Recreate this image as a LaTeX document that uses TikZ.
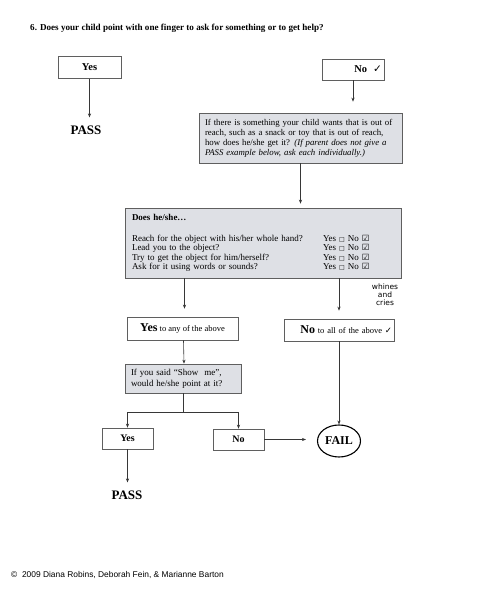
\documentclass[tikz,border=0pt]{standalone}
\usepackage{fontspec}
\setmainfont{Liberation Serif}
\newfontfamily\footfont{Liberation Sans}
\newfontfamily\symfont{DejaVu Sans}
\usetikzlibrary{shapes.geometric, arrows.meta, positioning, calc}
\definecolor{boxfill}{RGB}{222,224,229}
\definecolor{boxborder}{RGB}{95,95,95}
\definecolor{linegray}{RGB}{55,55,55}
\newcommand{\handtick}{{\symfont ✓}}
\newcommand{\ynbox}{{\symfont\fontsize{6}{6}\selectfont □}}
\newcommand{\boxtick}{{\symfont\fontsize{8.5}{8.5}\selectfont ☑}}
\newcommand{\bigword}[1]{{\fontsize{12}{12}\selectfont\bfseries #1}}
\tikzset{
  whitebox/.style={
    rectangle, fill=white, draw=boxborder, line width=0.7pt,
    inner sep=2pt, font=\fontsize{10.5}{12}\selectfont\bfseries},
  graybox/.style={
    rectangle, fill=boxfill, draw=boxborder, line width=0.7pt,
    align=left, inner xsep=6pt, inner ysep=3pt,
    font=\fontsize{8.8}{10}\selectfont},
  passtext/.style={
    inner xsep=1pt, inner ysep=8pt,
    font=\fontsize{13}{13}\selectfont\bfseries},
  failnode/.style={
    ellipse, draw=black, line width=1.1pt, inner sep=1pt,
    minimum width=43pt, minimum height=32pt,
    font=\fontsize{12}{12}\selectfont\bfseries},
  arrow/.style={-{Stealth[length=4pt, width=3.2pt]}, line width=0.6pt,
                color=linegray}
}
\begin{document}
\begin{tikzpicture}[x=1pt, y=1pt]
  \useasboundingbox (0,0) rectangle (500,600);

  %% Question
  \node[anchor=west, inner sep=0pt, font=\fontsize{9.1}{11}\selectfont\bfseries]
    (title) at (30,572)
    {6. Does your child point with one finger to ask for something or to get help?};

  %% Row 1: first answer
  \node[whitebox, minimum width=63pt, minimum height=22pt]
    (yesA) at (89.5,532.5) {Yes};
  \node[whitebox, minimum height=21pt, text width=58pt, align=right]
    (noA) at (353,530.5) {No\hspace{6pt}{\mdseries\handtick}\hspace{1pt}};
  \node[passtext] (passA) at (86,470) {PASS};

  %% Row 2: follow-up question
  \node[graybox, text width=191pt, minimum height=50pt]
    (info) at (300.5,462)
    {If there is something your child wants that is out of\\
     reach, such as a snack or toy that is out of reach,\\
     how does he/she get it? \textit{(If parent does not give a}\\
     \textit{PASS example below, ask each individually.)}};

  %% Row 3: the four ways
  \node[graybox, text width=262pt, minimum height=70pt, inner xsep=7pt,
        font=\fontsize{9}{9.5}\selectfont]
    (does) at (263,357)
    {\textbf{Does he/she\ldots}\\[11.5pt]
     \makebox[191pt][l]{Reach for the object with his/her whole hand?}Yes \ynbox\ No \boxtick\\
     \makebox[191pt][l]{Lead you to the object?}Yes \ynbox\ No \boxtick\\
     \makebox[191pt][l]{Try to get the object for him/herself?}Yes \ynbox\ No \boxtick\\
     \makebox[191pt][l]{Ask for it using words or sounds?}Yes \ynbox\ No \boxtick};
  \node[align=center, inner sep=0pt, font=\symfont\fontsize{7.5}{8}\selectfont]
    (whines) at (385,305) {whines\\and\\cries};

  %% Row 4: summary
  \node[whitebox, minimum width=111pt, minimum height=23pt,
        font=\fontsize{8.5}{10}\selectfont]
    (yesany) at (182.5,271.5) {\bigword{Yes} to any of the above};
  \node[whitebox, minimum height=22pt, text width=106pt, align=right,
        font=\fontsize{8.5}{10}\selectfont]
    (noall) at (339,270) {\bigword{No} to all of the above \handtick};

  %% Row 5: show me
  \node[graybox, text width=104pt, minimum height=29pt,
        font=\fontsize{9}{11}\selectfont]
    (showme) at (183,221.5)
    {If you said ``Show\ \ me'',\\would he/she point at it?};

  %% Row 6: last answer
  \node[whitebox, minimum width=51pt, minimum height=21pt,
        font=\fontsize{10}{12}\selectfont\bfseries]
    (yesB) at (127.5,161.5) {Yes};
  \node[whitebox, minimum width=51pt, minimum height=21pt,
        font=\fontsize{10}{12}\selectfont\bfseries]
    (noB) at (238.5,160.5) {No};
  \node[failnode] (fail) at (339,159) {FAIL};
  \node[passtext] (passB) at (127,105) {PASS};

  %% Footer
  \node[anchor=west, inner sep=0pt, font=\footfont\fontsize{8.4}{10}\selectfont]
    (copy) at (11,25) {©\ \ 2009 Diana Robins, Deborah Fein, \& Marianne Barton};

  %% Arrows
  \draw[arrow] (yesA.south) -- (yesA.south |- passA.north);
  \draw[arrow, shorten >=11pt] (noA.south) -- (noA.south |- info.north);
  \draw[arrow, shorten >=4pt] (info.south) -- (info.south |- does.north);
  \draw[arrow, shorten >=8pt] ([xshift=2pt]yesany.north |- does.south)
    -- ([xshift=2pt]yesany.north);
  \draw[arrow, shorten >=8pt] (noall.north |- does.south) -- (noall.north);
  \draw[arrow] ([xshift=1pt]yesany.south) -- ([xshift=1pt]showme.north);
  \draw[arrow] (showme.south) -- ++(0,-19) -| (yesB.north);
  \draw[arrow] (showme.south) -- ++(0,-19) -| (noB.north);
  \draw[arrow] (noall.south) -- (fail.north);
  \draw[arrow, shorten >=11pt] (noB.east) -- (noB.east -| fail.west);
  \draw[arrow] (yesB.south) -- (yesB.south |- passB.north);

\end{tikzpicture}
\end{document}
